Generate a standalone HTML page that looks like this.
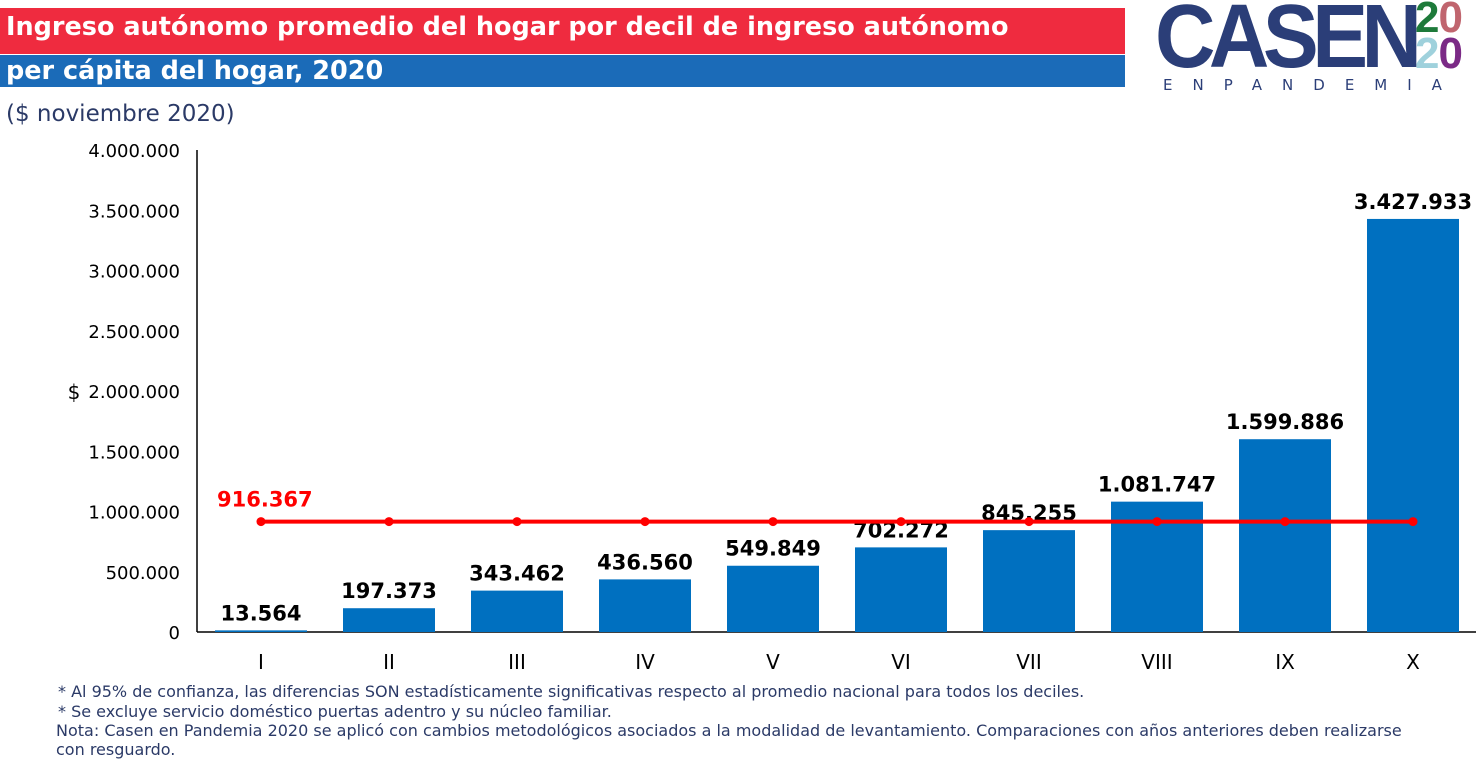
<!DOCTYPE html>
<html><head><meta charset="utf-8"><style>
body{margin:0;width:1476px;height:763px;background:#fff;overflow:hidden;position:relative;font-family:"DejaVu Sans","Liberation Sans",sans-serif}
.hb{position:absolute;left:0;color:#fff;font-weight:bold;font-size:25.5px;line-height:1;padding-left:6px;box-sizing:border-box;letter-spacing:0}
.note{position:absolute;left:58px;font-size:16px;color:#2b3a67;line-height:19px}
</style></head><body>
<div class="hb" style="top:8px;width:1125px;height:46px;background:#ef2b3f;padding-top:7px">Ingreso autónomo promedio del hogar por decil de ingreso autónomo</div>
<div class="hb" style="top:55px;width:1125px;height:32px;background:#1b6bb8;padding-top:4px">per cápita del hogar, 2020</div>
<div style="position:absolute;left:6px;top:101px;font-size:23px;color:#2b3a67">($ noviembre 2020)</div>
<div style="position:absolute;left:1155px;top:0;width:320px;height:100px">
<div style="position:absolute;left:0;top:-14px;font-family:'Liberation Sans',sans-serif;font-weight:bold;font-size:90px;color:#2b3e78;letter-spacing:-7px;transform:scaleX(0.93);transform-origin:left">CASEN</div>
<div style="position:absolute;left:260px;top:0;font-family:'Liberation Sans',sans-serif;font-weight:bold;font-size:44px;line-height:36px;letter-spacing:-1px"><span style="color:#1e7a3a">2</span><span style="color:#c0656e">0</span><br><span style="color:#9fd1dc">2</span><span style="color:#7b2a86">0</span></div>
<div style="position:absolute;left:8px;top:76px;font-size:15px;color:#2b3e78;letter-spacing:20px">ENPANDEMIA</div>
</div>
<svg id="chart" width="1476" height="763" style="position:absolute;left:0;top:0"></svg>
<div class="note" style="top:682px">* Al 95% de confianza, las diferencias SON estadísticamente significativas respecto al promedio nacional para todos los deciles.</div>
<div class="note" style="top:702px">* Se excluye servicio doméstico puertas adentro y su núcleo familiar.</div>
<div class="note" style="top:721px;left:56px;width:1368px">Nota: Casen en Pandemia 2020 se aplicó con cambios metodológicos asociados a la modalidad de levantamiento. Comparaciones con años anteriores deben realizarse con resguardo.</div>
<script>
const categories=["I","II","III","IV","V","VI","VII","VIII","IX","X"];
const values=[13564,197373,343462,436560,549849,702272,845255,1081747,1599886,3427933];
const average=916367;
const yTicks=[0,500000,1000000,1500000,2000000,2500000,3000000,3500000,4000000];
const svg=document.getElementById('chart');const NS='http://www.w3.org/2000/svg';
const y0=632,yTop=150,yMax=4000000;
const y=v=>y0-(v/yMax)*(y0-yTop);
const x=i=>261+i*128;
const fmt=v=>Math.round(v).toString().replace(/\B(?=(\d{3})+(?!\d))/g,'.');
function mk(t,a,txt){const e=document.createElementNS(NS,t);for(const k in a)e.setAttribute(k,a[k]);if(txt!==undefined)e.textContent=txt;svg.appendChild(e);return e;}
let e;
e=mk('line',{x1:197,y1:150,x2:197,y2:632,stroke:'#000','stroke-width':1.5});


e=mk('line',{x1:197,y1:632,x2:1476,y2:632,stroke:'#000','stroke-width':1.5});


yTicks.forEach(t=>{e=mk('text',{x:180,y:y(t)+7,'text-anchor':'end','font-size':18,fill:'#000','font-family':'DejaVu Sans, sans-serif'},fmt(t));

});
e=mk('text',{x:74,y:399,'text-anchor':'middle','font-size':20,fill:'#000','font-family':'DejaVu Sans, sans-serif'},'$');


values.forEach((v,i)=>{
e=mk('rect',{x:x(i)-46,y:y(v),width:92,height:y0-y(v),fill:'#0070c0'});


e=mk('text',{x:x(i),y:y(v)-10,'text-anchor':'middle','font-size':21,'font-weight':'bold',fill:'#000','font-family':'DejaVu Sans, sans-serif'},fmt(v));


e=mk('text',{x:x(i),y:669,'text-anchor':'middle','font-size':20,fill:'#000','font-family':'DejaVu Sans, sans-serif'},categories[i]);


});
e=mk('line',{x1:x(0),y1:y(average),x2:x(9),y2:y(average),stroke:'#ff0000','stroke-width':4});


categories.forEach((c,i)=>{e=mk('circle',{cx:x(i),cy:y(average),r:4.5,fill:'#ff0000'});

});
e=mk('text',{x:217,y:y(average)-15,'font-size':21,'font-weight':'bold',fill:'#ff0000','font-family':'DejaVu Sans, sans-serif'},fmt(average));


</script>
</body></html>
